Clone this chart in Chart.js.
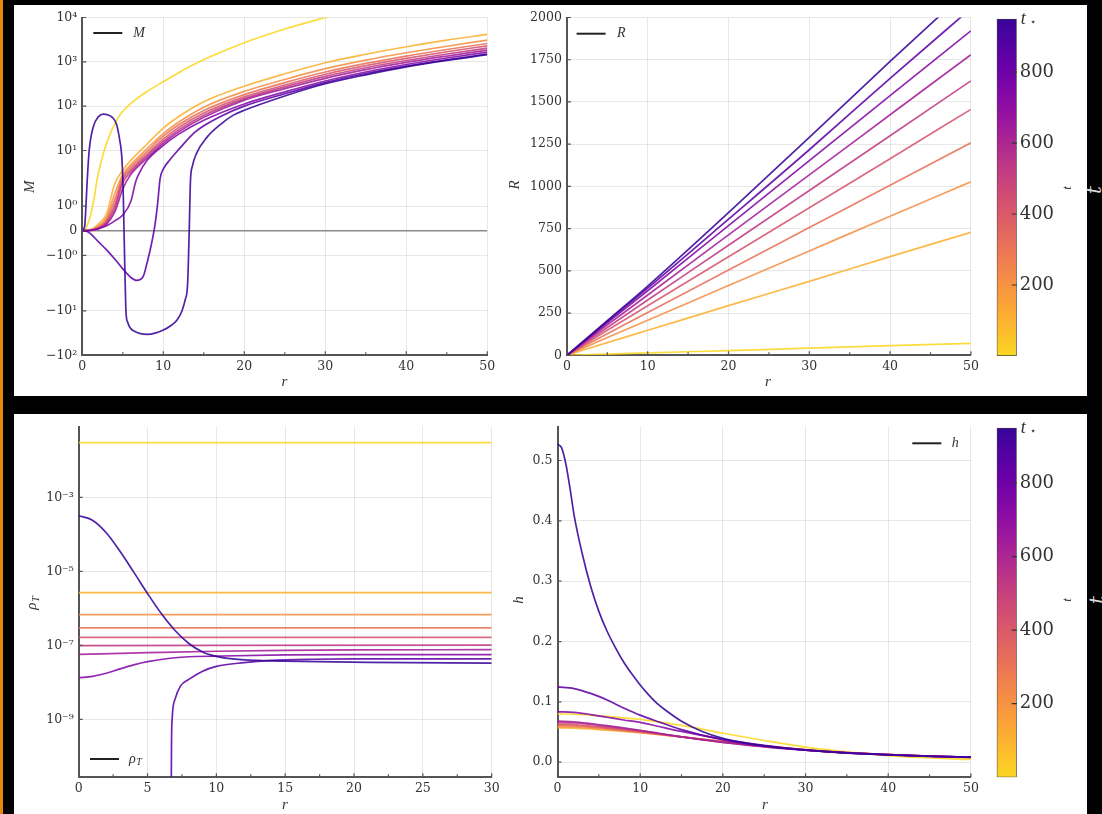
<!DOCTYPE html>
<html>
<head>
<meta charset="utf-8">
<script src="https://cdn.jsdelivr.net/npm/chart.js@4.4.1/dist/chart.umd.min.js"></script>
<style>
html, body { margin: 0; padding: 0; background: #000; width: 1102px; height: 814px; overflow: hidden; }
body { position: relative; }
.panel { position: absolute; background: #fff; }
.strip { position: absolute; left: 0; top: 0; width: 3px; height: 814px; background: #e8860f; }
canvas { position: absolute; }
.ghost { position: absolute; color: #d8d8d8; font: italic 20px "DejaVu Serif", serif; transform: rotate(-90deg); }
</style>
</head>
<body>
<div class="strip"></div>
<div class="panel" style="left:14px;top:5px;width:1073px;height:391px"></div>
<div class="panel" style="left:14px;top:414px;width:1073px;height:400px"></div>
<span class="ghost" style="left:1090px;top:178px">t</span>
<span class="ghost" style="left:1093px;top:588px">t</span>
<canvas id="cM" width="490" height="391" style="left:14px;top:5px"></canvas>
<canvas id="cR" width="480" height="391" style="left:504px;top:5px"></canvas>
<canvas id="cb1" width="103" height="391" style="left:984px;top:5px"></canvas>
<canvas id="cT" width="490" height="400" style="left:14px;top:414px"></canvas>
<canvas id="cH" width="480" height="400" style="left:504px;top:414px"></canvas>
<canvas id="cb2" width="103" height="400" style="left:984px;top:414px"></canvas>
<script>
// times of the ten snapshots (colour scale runs 0 .. t*)
const tStar = 950;
const tVals = [0, 105, 211, 316, 422, 527, 633, 738, 844, 950];
const cbTicks = [200, 400, 600, 800];

// ---- M(r), symlog axis ----
const symTicks = [-100, -10, -1, 0, 1, 10, 100, 1000, 10000];
const rM = [0, 1, 2, 3, 4, 5, 6, 8, 10, 12, 15, 20, 25, 30, 35, 40, 45, 50];
const rM0 = [0, 0.5, 1, 1.5, 1.8, 2.2, 3, 4.5, 6, 8, 10, 13, 16, 20, 25, 30, 31];
const M0 = [0, 0.15, 0.6, 1.4, 2.1, 4.5, 14.5, 58, 115, 214, 355, 740, 1350, 2700, 5500, 10000, 11200];
const M1 = [0, 0.04, 0.28, 0.7, 1.9, 3.6, 6.0, 14, 32, 60, 126, 282, 537, 955, 1480, 2190, 3090, 4170];
const M2 = [0, 0.03, 0.2, 0.55, 1.5, 2.9, 4.8, 11, 24, 45, 95, 215, 400, 700, 1090, 1600, 2250, 3090];
const M3 = [0, 0.02, 0.15, 0.45, 1.25, 2.5, 4.2, 9.5, 21, 39, 80, 182, 340, 590, 920, 1350, 1900, 2590];
const M4 = [0, 0.015, 0.12, 0.38, 1.05, 2.2, 3.7, 8.3, 18, 34, 70, 162, 300, 525, 820, 1200, 1690, 2300];
const M5 = [0, 0.012, 0.1, 0.32, 0.9, 1.95, 3.3, 7.5, 16, 30, 62, 148, 272, 470, 735, 1070, 1500, 2040];
const M6 = [0, 0.01, 0.08, 0.27, 0.75, 1.7, 2.9, 6.7, 14.5, 27, 56, 137, 248, 425, 665, 970, 1350, 1840];
const rM7 = [0, 1, 2, 3, 4, 5, 6, 6.6, 7, 8, 10, 12, 15, 20, 25, 30, 35, 40, 45, 50];
const M7 = [0, 0.02, 0.08, 0.2, 0.4, 0.64, 1.2, 2.0, 3.0, 6, 13, 24, 48, 112, 210, 370, 590, 870, 1220, 1655];
const rM8 = [0, 0.5, 1, 2, 3, 4, 5, 6, 6.7, 7.5, 8, 8.5, 9, 9.3, 9.6, 10, 10.8, 12, 13.7, 15, 17, 20, 25, 30, 35, 40, 45, 50];
const M8 = [0, -0.02, -0.12, -0.45, -0.78, -1.15, -1.55, -1.9, -2.05, -1.87, -1.3, -0.6, 0.3, 1.1, 2.3, 3.8, 6.1, 11, 24, 36, 58, 100, 190, 340, 545, 800, 1110, 1490];
const rM9 = [0, 0.3, 0.45, 0.6, 0.85, 1.35, 2.0, 2.6, 3.2, 3.7, 4.2, 4.6, 4.9, 5.07, 5.15, 5.25, 5.4, 5.6, 5.9, 6.5, 7.2, 8.0, 9.0, 10, 11, 11.7, 12.3, 12.7, 13.0, 13.2, 13.35, 13.6, 14.1, 15.4, 17, 18.6, 20, 25, 30, 35, 40, 45, 50];
const M9 = [0, 0.2, 1.0, 2.0, 10, 34, 58, 66, 63, 56, 40, 18, 6, 1.3, 0, -1.5, -11, -18, -24, -29, -32.5, -33.6, -31.5, -27, -21, -16, -10, -5.6, -2.5, 0, 2, 4.5, 8.6, 20, 38, 62, 81, 170, 320, 510, 770, 1080, 1450];

// ---- R(r) ----
const rR = [0, 5, 10, 20, 30, 40, 50];
const R0 = [0, 7, 14, 28, 42, 57, 71];
const R1 = [0, 75, 148, 294, 438, 584, 728];
const R2 = [0, 105, 207, 413, 618, 823, 1027];
const R3 = [0, 128, 253, 505, 756, 1007, 1258];
const R4 = [0, 148, 293, 583, 873, 1164, 1456];
const R5 = [0, 165, 327, 652, 976, 1300, 1625];
const R6 = [0, 180, 357, 713, 1068, 1424, 1780];
const R7 = [0, 192, 382, 768, 1153, 1537, 1921];
const R8 = [0, 200, 398, 806, 1217, 1640, 2053];
const R9 = [0, 205, 410, 845, 1290, 1740, 2180];

// ---- rho_T(r), log axis ----
const logTicks = [1e-9, 1e-7, 1e-5, 1e-3];
const rT = [0, 30];
const T0 = [0.0299, 0.0299];
const T1 = [2.64e-6, 2.64e-6];
const T2 = [6.7e-7, 6.7e-7];
const T3 = [2.94e-7, 2.94e-7];
const T4 = [1.64e-7, 1.64e-7];
const T5 = [9.8e-8, 1.01e-7];
const rT6 = [0, 5, 10, 15, 20, 30];
const T6 = [5.7e-8, 6.3e-8, 6.9e-8, 7.3e-8, 7.5e-8, 7.6e-8];
const rT7 = [0, 1, 2, 3, 4, 5, 6.5, 8, 10, 15, 20, 30];
const T7 = [1.33e-8, 1.45e-8, 1.75e-8, 2.3e-8, 2.95e-8, 3.6e-8, 4.4e-8, 4.9e-8, 5.1e-8, 5.5e-8, 5.6e-8, 5.62e-8];
const rT8 = [6.72, 6.74, 6.8, 7.0, 7.4, 8, 9, 10, 12, 14, 17, 20, 25, 30];
const T8 = [1e-11, 2e-10, 1.2e-9, 3.5e-9, 8e-9, 1.2e-8, 2.0e-8, 2.7e-8, 3.4e-8, 3.9e-8, 4.2e-8, 4.3e-8, 4.3e-8, 4.27e-8];
const rT9 = [0, 1, 2, 3, 4, 5, 6, 7, 8, 9, 10, 11, 13, 15, 21, 30];
const T9 = [3.18e-4, 2.40e-4, 1.10e-4, 3.47e-5, 9.5e-6, 2.51e-6, 7.2e-7, 2.51e-7, 1.12e-7, 6.6e-8, 5.0e-8, 4.37e-8, 3.89e-8, 3.72e-8, 3.47e-8, 3.31e-8];

// ---- h(r) ----
const rH = [0, 2, 4, 6, 8, 10, 12, 15, 20, 25, 30, 35, 40, 45, 50];
const H0 = [0.080, 0.0795, 0.078, 0.076, 0.0735, 0.071, 0.067, 0.061, 0.048, 0.036, 0.025, 0.017, 0.011, 0.007, 0.0045];
const H1 = [0.057, 0.0565, 0.055, 0.053, 0.051, 0.049, 0.046, 0.042, 0.0345, 0.027, 0.021, 0.016, 0.0125, 0.0095, 0.0075];
const H2 = [0.059, 0.0585, 0.057, 0.0545, 0.052, 0.0495, 0.0465, 0.042, 0.034, 0.027, 0.0205, 0.016, 0.0125, 0.0098, 0.0078];
const H3 = [0.061, 0.0605, 0.0585, 0.056, 0.053, 0.050, 0.047, 0.042, 0.034, 0.0265, 0.0205, 0.016, 0.0126, 0.0099, 0.0079];
const H4 = [0.063, 0.0625, 0.060, 0.057, 0.054, 0.051, 0.0475, 0.042, 0.0335, 0.026, 0.020, 0.0158, 0.0126, 0.0100, 0.0080];
const H5 = [0.066, 0.065, 0.0625, 0.059, 0.0555, 0.052, 0.048, 0.042, 0.033, 0.026, 0.020, 0.0157, 0.0126, 0.0101, 0.0081];
const H6 = [0.068, 0.067, 0.064, 0.0605, 0.057, 0.053, 0.0485, 0.042, 0.033, 0.0255, 0.0198, 0.0156, 0.0126, 0.0102, 0.0082];
const H7 = [0.0835, 0.0825, 0.079, 0.0745, 0.070, 0.066, 0.060, 0.051, 0.038, 0.028, 0.0205, 0.0156, 0.0125, 0.0102, 0.0083];
const H8 = [0.1247, 0.122, 0.114, 0.103, 0.090, 0.078, 0.068, 0.054, 0.037, 0.027, 0.0198, 0.015, 0.0121, 0.0099, 0.0083];
const rH9 = [0, 0.5, 1, 1.5, 2, 3, 4, 5, 6, 7, 8, 9, 10, 11, 12, 13, 15, 17.5, 20, 25, 30, 35, 40, 45, 50];
const H9 = [0.527, 0.521, 0.495, 0.455, 0.41, 0.345, 0.292, 0.250, 0.217, 0.19, 0.166, 0.146, 0.128, 0.112, 0.098, 0.087, 0.068, 0.051, 0.0396, 0.027, 0.0203, 0.0155, 0.012, 0.0098, 0.0083];

// ---------------------------------------------------------------
const serif = '"DejaVu Serif", serif';
const mathFont = '"Liberation Serif", "DejaVu Serif", serif';
const axisCol = '#555';
const gridCol = 'rgba(0,0,0,0.09)';
Chart.defaults.font.family = serif;
Chart.defaults.color = '#333';
Chart.defaults.animation = false;

// plasma stops, used reversed and trimmed for the t colour scale
const plasma = ['#0d0887', '#41049d', '#6a00a8', '#8f0da4', '#b12a90', '#cc4778', '#e16462', '#f2844b', '#fca636', '#fcce25', '#f0f921'];
function hex(h) { return [1, 3, 5].map(i => parseInt(h.slice(i, i + 2), 16)); }
function cmap(t, a) {
  const s = 0.92 - 0.84 * (t / tStar);
  const f = s * 10, i = Math.min(9, Math.floor(f)), u = f - i;
  const c0 = hex(plasma[i]), c1 = hex(plasma[i + 1]);
  const c = c0.map((v, k) => Math.round(v + (c1[k] - v) * u));
  return `rgba(${c[0]},${c[1]},${c[2]},${a})`;
}

// symmetric log scale (linthresh 2, linscale 1)
class SymlogScale extends Chart.LinearScale {
  _tf(v) {
    const c = 2, k = 1 / (1 - 1 / 10), a = Math.abs(v);
    return a <= c ? v / c * k : Math.sign(v) * (k + Math.log10(a / c));
  }
  determineDataLimits() {
    this.min = this.options.min;
    this.max = this.options.max;
  }
  buildTicks() {
    return symTicks.map(v => ({ value: v }));
  }
  getPixelForValue(v) {
    const a = this._tf(this.min), b = this._tf(this.max);
    return this.getPixelForDecimal((this._tf(v) - a) / (b - a));
  }
  getValueForPixel(p) {
    return this.min;
  }
}
SymlogScale.id = 'symlog';
SymlogScale.defaults = {};
Chart.register(SymlogScale);

const sup = { '0': '⁰', '1': '¹', '2': '²', '3': '³', '4': '⁴', '5': '⁵', '6': '⁶', '7': '⁷', '8': '⁸', '9': '⁹', '-': '⁻' };
function pow10Label(v) {
  if (v === 0) return '0';
  const e = Math.round(Math.log10(Math.abs(v)));
  return (v < 0 ? '−' : '') + '10' + String(e).split('').map(ch => sup[ch]).join('');
}

function series(idx, r, v) {
  return {
    data: r.map((x, i) => ({ x: x, y: v[i] })),
    borderColor: cmap(tVals[idx], 0.88),
    borderWidth: 1.7,
    pointRadius: 0,
    cubicInterpolationMode: 'monotone',
    fill: false,
    order: 20 - idx
  };
}

function xAxis(max, step, h) {
  return {
    type: 'linear', min: 0, max: max,
    afterBuildTicks: s => { s.ticks = []; for (let v = 0; v <= max; v += step) s.ticks.push({ value: v }); },
    afterFit: s => { s.height = h; },
    grid: { color: gridCol, drawTicks: false },
    border: { color: axisCol, width: 2 },
    ticks: { padding: 4, font: { size: 12.5 }, color: '#333', maxRotation: 0, callback: v => v }
  };
}

function yAxis(extra, w, tickList, fmt) {
  return Object.assign({
    afterBuildTicks: s => { s.ticks = tickList.map(v => ({ value: v })); },
    afterFit: s => { s.width = w; },
    grid: { color: gridCol, drawTicks: false },
    border: { color: axisCol, width: 2 },
    ticks: { padding: 5, font: { size: 12.5 }, color: '#333', callback: fmt }
  }, extra);
}

function mathText(c, o) {
  c.save();
  c.translate(o.x, o.y);
  if (o.rot) c.rotate(o.rot);
  const size = o.size || 15;
  c.font = `italic ${size}px ${mathFont}`;
  const w1 = c.measureText(o.text).width;
  let w2 = 0;
  if (o.sub) { c.font = `italic ${size * 0.7}px ${mathFont}`; w2 = c.measureText(o.sub).width; }
  const x0 = o.align === 'left' ? 0 : -(w1 + w2) / 2;
  c.fillStyle = o.color || '#333';
  c.textBaseline = 'middle';
  c.textAlign = 'left';
  c.font = `italic ${size}px ${mathFont}`;
  c.fillText(o.text, x0, 0);
  if (o.sub) {
    c.font = `italic ${size * 0.7}px ${mathFont}`;
    c.fillText(o.sub, x0 + w1 + 0.5, size * 0.25);
  }
  c.restore();
}

// axis titles, in-plot legend and inward tick marks
const deco = {
  id: 'deco',
  afterDraw(chart, args, o) {
    const c = chart.ctx, a = chart.chartArea;
    c.save();
    if (o.ticks) {
      const xs = chart.scales.x, ys = chart.scales.y;
      c.strokeStyle = axisCol;
      c.lineWidth = 1.2;
      c.beginPath();
      const xt = xs.ticks.map(t => t.value);
      xt.forEach((v, i) => {
        const p = xs.getPixelForValue(v);
        c.moveTo(p, a.bottom); c.lineTo(p, a.bottom - 4);
        if (i < xt.length - 1) {
          const m = xs.getPixelForValue((v + xt[i + 1]) / 2);
          c.moveTo(m, a.bottom); c.lineTo(m, a.bottom - 3);
        }
      });
      ys.ticks.forEach(t => {
        const p = ys.getPixelForValue(t.value);
        c.moveTo(a.left, p); c.lineTo(a.left + 4, p);
      });
      c.stroke();
    }
    if (o.legend) {
      const L = o.legend;
      c.strokeStyle = '#222';
      c.lineWidth = 2;
      c.beginPath();
      c.moveTo(L.x, L.y); c.lineTo(L.x + 29, L.y);
      c.stroke();
      mathText(c, { text: L.text, sub: L.sub, x: L.tx, y: L.y, size: 14, align: 'left' });
    }
    (o.titles || []).forEach(t => mathText(c, t));
    c.restore();
  }
};
Chart.register(deco);

function lineChart(id, datasets, scales, pad, decoOpts) {
  return new Chart(document.getElementById(id), {
    type: 'line',
    data: { datasets: datasets },
    options: {
      responsive: false,
      animation: false,
      layout: { padding: pad },
      scales: scales,
      plugins: { legend: { display: false }, tooltip: { enabled: false }, deco: decoOpts }
    }
  });
}

// ---- panel 1: M ----
const mSets = [
  series(0, rM0, M0), series(1, rM, M1), series(2, rM, M2), series(3, rM, M3), series(4, rM, M4),
  series(5, rM, M5), series(6, rM, M6), series(7, rM7, M7), series(8, rM8, M8), series(9, rM9, M9),
  { data: [{ x: 0, y: 0 }, { x: 50, y: 0 }], borderColor: '#8a8a8a', borderWidth: 1.6, pointRadius: 0, order: 50 }
];
lineChart('cM', mSets, {
  x: xAxis(50, 10, 40.7),
  y: yAxis({ type: 'symlog', min: -100, max: 10000 }, 68.3, symTicks, v => pow10Label(v))
}, { left: 0, top: 12.3, right: 16.7, bottom: 0 }, {
  ticks: true,
  legend: { x: 79.3, y: 28, tx: 119.3, text: 'M' },
  titles: [{ text: 'M', x: 16, y: 181.7, rot: -Math.PI / 2 }, { text: 'r', x: 270.3, y: 376.7 }]
});

// ---- panel 2: R ----
const rTicksR = [0, 250, 500, 750, 1000, 1250, 1500, 1750, 2000];
const rSets = [R0, R1, R2, R3, R4, R5, R6, R7, R8, R9].map((v, i) => series(i, rR, v));
lineChart('cR', rSets, {
  x: xAxis(50, 10, 40.7),
  y: yAxis({ type: 'linear', min: 0, max: 2000 }, 62.9, rTicksR, v => v)
}, { left: 0, top: 12.3, right: 13.1, bottom: 0 }, {
  ticks: true,
  legend: { x: 72.6, y: 28.7, tx: 112.9, text: 'R' },
  titles: [{ text: 'R', x: 11.4, y: 180, rot: -Math.PI / 2 }, { text: 'r', x: 264, y: 376.7 }]
});

// ---- panel 3: rho_T ----
const tSets = [
  series(0, rT, T0), series(1, rT, T1), series(2, rT, T2), series(3, rT, T3), series(4, rT, T4),
  series(5, rT, T5), series(6, rT6, T6), series(7, rT7, T7), series(8, rT8, T8), series(9, rT9, T9)
];
lineChart('cT', tSets, {
  x: xAxis(30, 5, 36.7),
  y: yAxis({ type: 'logarithmic', min: Math.pow(10, -10.568), max: Math.pow(10, -1.092) }, 64.7, logTicks, v => pow10Label(v))
}, { left: 0, top: 12.7, right: 12.3, bottom: 0 }, {
  ticks: true,
  legend: { x: 76, y: 345, tx: 115, text: 'ρ', sub: 'T' },
  titles: [{ text: 'ρ', sub: 'T', x: 18.3, y: 189.3, rot: -Math.PI / 2 }, { text: 'r', x: 271, y: 391 }]
});

// ---- panel 4: h ----
const hTicks = [0, 0.1, 0.2, 0.3, 0.4, 0.5];
const hSets = [H0, H1, H2, H3, H4, H5, H6, H7, H8].map((v, i) => series(i, rH, v));
hSets.push(series(9, rH9, H9));
lineChart('cH', hSets, {
  x: xAxis(50, 10, 36.7),
  y: yAxis({ type: 'linear', min: -0.025, max: 0.556 }, 53.5, hTicks, v => v.toFixed(1))
}, { left: 0, top: 12.7, right: 13.1, bottom: 0 }, {
  ticks: true,
  legend: { x: 408.3, y: 29.3, tx: 447.7, text: 'h' },
  titles: [{ text: 'h', x: 15.3, y: 186, rot: -Math.PI / 2 }, { text: 'r', x: 261, y: 391 }]
});

// ---- colour bars ----
const cbDeco = {
  id: 'cbDeco',
  afterDraw(chart) {
    const c = chart.ctx, a = chart.chartArea, ys = chart.scales.y;
    c.save();
    c.strokeStyle = '#333';
    c.lineWidth = 1.2;
    c.beginPath();
    cbTicks.forEach(v => { const p = ys.getPixelForValue(v); c.moveTo(a.right - 5, p); c.lineTo(a.right, p); });
    c.stroke();
    const pTop = ys.getPixelForValue(tStar);
    c.fillStyle = '#333';
    c.textBaseline = 'middle';
    c.font = `italic 18px ${mathFont}`;
    c.fillText('t', a.right + 4, pTop);
    c.font = `10px ${serif}`;
    c.fillText('⋆', a.right + 13, pTop + 4);
    c.restore();
    mathText(c, { text: 't', x: chart.options.plugins.cbTitle.x, y: chart.options.plugins.cbTitle.y, rot: -Math.PI / 2, size: 13 });
  }
};

function colorBar(id, padTop, padBottom, titleY) {
  return new Chart(document.getElementById(id), {
    type: 'bar',
    data: {
      labels: ['t'],
      datasets: [{
        data: [[0, tStar]],
        backgroundColor: ctx => {
          const ch = ctx.chart;
          if (!ch.chartArea) return cmap(tStar / 2, 1);
          const ys = ch.scales.y;
          const g = ch.ctx.createLinearGradient(0, ys.getPixelForValue(0), 0, ys.getPixelForValue(tStar));
          for (let k = 0; k <= 20; k++) g.addColorStop(k / 20, cmap(tStar * k / 20, 1));
          return g;
        },
        borderColor: '#444',
        borderWidth: 1,
        borderSkipped: false,
        barPercentage: 1,
        categoryPercentage: 1
      }]
    },
    options: {
      responsive: false,
      animation: false,
      layout: { padding: { left: 12.7, right: 0, top: padTop, bottom: padBottom } },
      scales: {
        x: { display: false },
        y: {
          position: 'right', min: 0, max: tStar,
          afterBuildTicks: s => { s.ticks = cbTicks.map(v => ({ value: v })); },
          afterFit: s => { s.width = 70.3; },
          grid: { display: false, drawTicks: false },
          border: { display: false },
          ticks: { padding: 3, font: { size: 18 }, color: '#333' }
        }
      },
      plugins: { legend: { display: false }, tooltip: { enabled: false }, cbTitle: { x: 84, y: titleY } }
    },
    plugins: [cbDeco]
  });
}
colorBar('cb1', 12.3, 40, 183);
colorBar('cb2', 12.7, 36.7, 186);
</script>
</body>
</html>
